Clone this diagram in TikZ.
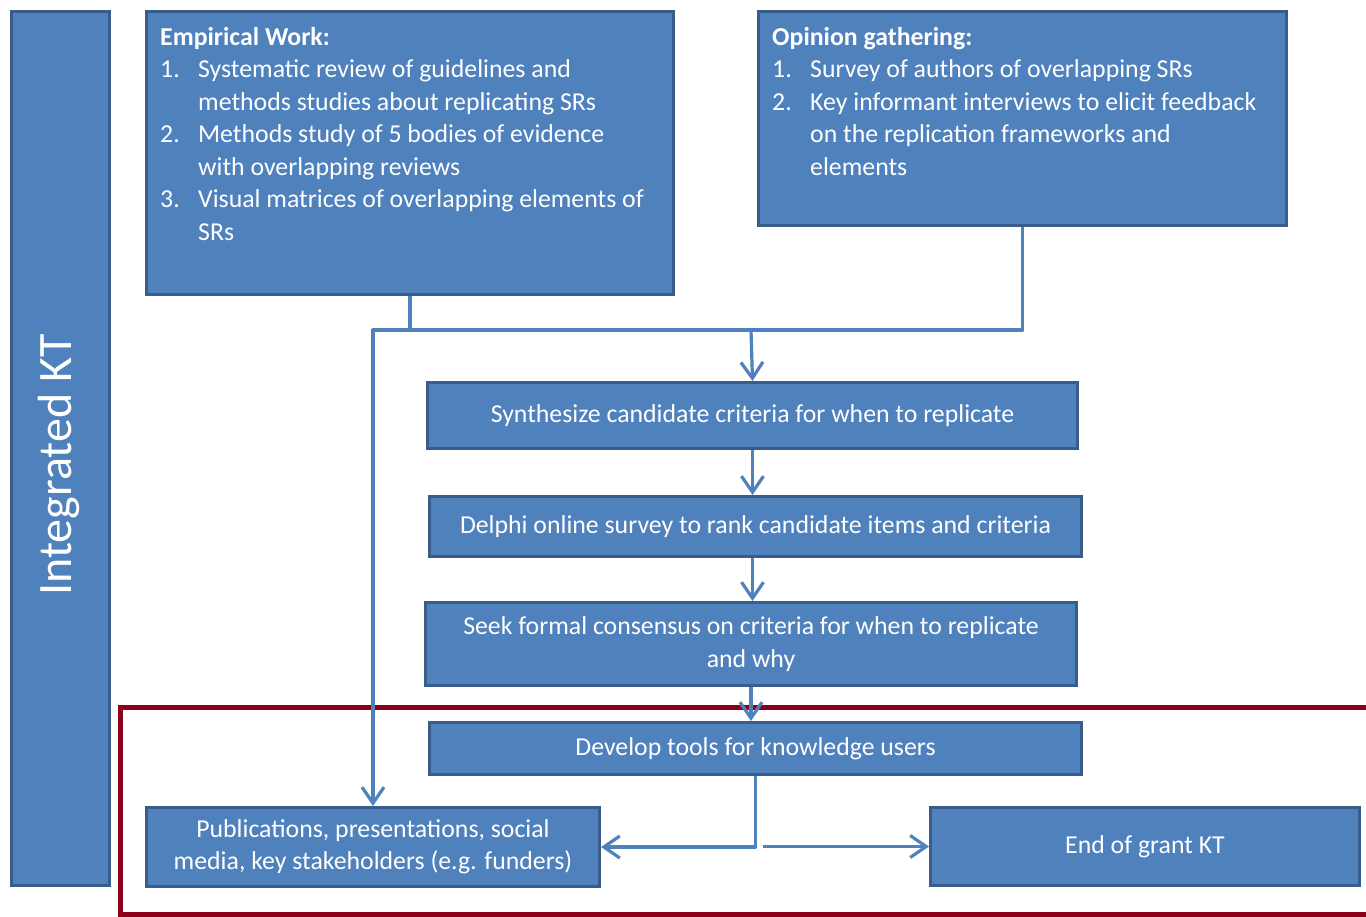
\documentclass[tikz,border=0pt]{standalone}
\usepackage{fontspec}
\setmainfont{Carlito}
\usepackage{tikz}
\usepackage{xcolor}
\usetikzlibrary{
    arrows.meta,
    positioning,
    calc
}
\definecolor{stagefill}{HTML}{4F81BD}
\definecolor{stageedge}{HTML}{385D8A}
\definecolor{ktred}{RGB}{140,0,26}
\newcommand{\numitem}[2]{\makebox[38pt][l]{#1}#2}
\newcommand{\contitem}[1]{\hspace*{38pt}#1}

\begin{document}
\begin{tikzpicture}[x=1pt, y=-1pt,
                        stage/.style={draw=stageedge, fill=stagefill, line width=3pt, anchor=north west,
                                      text=white, align=center, inner sep=0pt,
                                      font=\fontsize{25.8}{32.5}\selectfont},
                        listtext/.style={text=white, align=left, anchor=north west, inner sep=0pt,
                                         font=\fontsize{25.8}{32.5}\selectfont},
                        flow/.style={draw=stagefill, line width=3.2pt, line join=round},
                        flowto/.style={flow, -{Straight Barb[length=16pt, width=22pt]}}]
                        \useasboundingbox (0, 0) rectangle (1366, 917);

                        \node[stage, minimum width=98pt, minimum height=874pt] (kt) at (10, 10) {};
                        \node[text=white, rotate=90, inner sep=0pt, font=\fontsize{48}{52}\selectfont] (ktlabel) at (59, 465) {Integrated KT};

                        \node[stage, minimum width=527pt, minimum height=283pt] (empirical) at (145, 10) {};
                        \node[listtext] (empiricaltext) at (160, 27) {\textbf{Empirical Work:}\\
                            \numitem{1.}{Systematic review of guidelines and}\\
                            \contitem{methods studies about replicating SRs}\\
                            \numitem{2.}{Methods study of 5 bodies of evidence}\\
                            \contitem{with overlapping reviews}\\
                            \numitem{3.}{Visual matrices of overlapping elements of}\\
                            \contitem{SRs}};

                        \node[stage, minimum width=528pt, minimum height=214pt] (opinion) at (757, 10) {};
                        \node[listtext] (opiniontext) at (772, 27) {\textbf{Opinion gathering:}\\
                            \numitem{1.}{Survey of authors of overlapping SRs}\\
                            \numitem{2.}{Key informant interviews to elicit feedback}\\
                            \contitem{on the replication frameworks and}\\
                            \contitem{elements}};

                        \node[stage, minimum width=650pt, minimum height=66pt] (synth) at (426, 381) {Synthesize candidate criteria for when to replicate};
                        \node[stage, minimum width=652pt, minimum height=60pt] (delphi) at (428, 495) {Delphi online survey to rank candidate items and criteria};
                        \node[stage, minimum width=651pt, minimum height=83pt] (seek) at (424, 601) {Seek formal consensus on criteria for when to replicate\\and why};
                        \node[stage, minimum width=652pt, minimum height=52pt] (develop) at (428, 721) {Develop tools for knowledge users};
                        \node[stage, minimum width=453pt, minimum height=79pt] (publish) at (145, 806) {Publications, presentations, social\\media, key stakeholders (e.g. funders)};
                        \node[stage, minimum width=429pt, minimum height=78pt] (endkt) at (929, 806) {End of grant KT};

                        \coordinate (merge) at (751, 330);

                        \draw[ktred, line width=5pt] (1370, 707) -- (120, 707) -- (120, 914) -- (1370, 914);

                        \draw[flow] (empirical.south) -- (empirical.south |- merge);
                        \draw[flowto] (opinion.south) |- (publish.north |- merge) -- (publish.north);
                        \draw[flowto] (merge) -- (synth.north);
                        \draw[flowto] (synth.south) -- (synth.south |- delphi.north);
                        \draw[flowto] (delphi.south -| synth.south) -- (synth.south |- seek.north);
                        \draw[flowto] (seek.south) -- (seek.south |- develop.north);
                        \draw[flowto] (develop.south) |- (publish.east);
                        \draw[flowto] ([xshift=7pt]develop.south |- endkt.west) -- (endkt.west);
                    \end{tikzpicture}
\end{document}
